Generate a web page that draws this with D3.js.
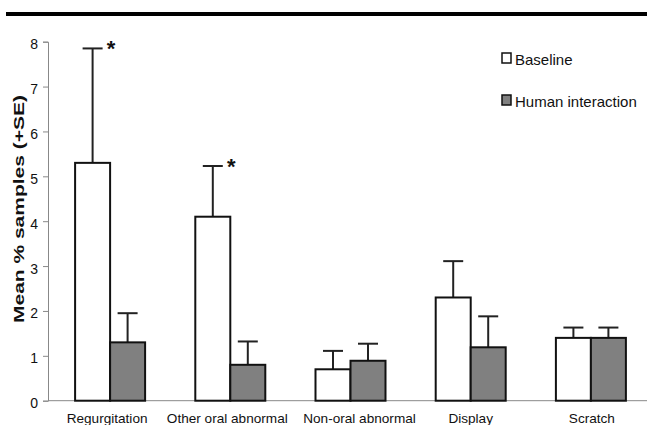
<!DOCTYPE html>
<html><head><meta charset="utf-8">
<script src="https://cdn.jsdelivr.net/npm/d3@7"></script>
<style>body{margin:0;background:#fff}svg{display:block}text{font-family:"Liberation Sans",Arial,sans-serif}</style>
</head><body>
<svg id="c" width="647" height="425"></svg>
<script>
const categories = ["Regurgitation","Other oral abnormal","Non-oral abnormal","Display","Scratch"];
const seriesNames = ["Baseline","Human interaction"];
const baseline = [5.3, 4.1, 0.7, 2.3, 1.4];
const baselineSE = [2.55, 1.13, 0.41, 0.81, 0.23];
const human = [1.3, 0.8, 0.89, 1.19, 1.4];
const humanSE = [0.65, 0.52, 0.38, 0.69, 0.23];
const significant = [true, true, false, false, false];
const yTicks = [0,1,2,3,4,5,6,7,8];

const svg = d3.select("#c");
const m = {l:48, r:647, t:41.7, b:400.7};
const x = d3.scaleBand().domain(categories).range([m.l+2, 651]).paddingInner(0).paddingOuter(0);
const y = d3.scaleLinear().domain([0,8]).range([m.b, m.t]);
const barW = 35;
const labelNudge = [-3, -3, 9, 0, 1];

// top rule
svg.append("line").attr("x1",6).attr("x2",647).attr("y1",14).attr("y2",14)
  .attr("stroke","#000").attr("stroke-width",4);

// y axis
const ya = svg.append("g").attr("transform",`translate(${m.l},0)`)
  .call(d3.axisLeft(y).tickValues(yTicks).tickSize(5).tickPadding(5).tickFormat(d3.format("d")));
ya.select(".domain").attr("stroke","#888");
ya.selectAll(".tick line").attr("stroke","#888");
ya.selectAll("text").attr("font-size",14).attr("fill","#111").attr("dy","0.5em");

// x axis line
svg.append("line").attr("x1",m.l).attr("x2",647).attr("y1",m.b).attr("y2",m.b).attr("stroke","#888");

// category labels
svg.selectAll(".cl").data(categories).join("text").attr("class","cl")
  .attr("x",(d,i)=>x(d)+x.bandwidth()/2+labelNudge[i]).attr("y",423).attr("text-anchor","middle")
  .attr("font-size",13.6).attr("fill","#111").text(d=>d);

const data = categories.map((c,i)=>({c, vals:[
  {s:0, v:baseline[i], se:baselineSE[i]},
  {s:1, v:human[i], se:humanSE[i]}]}));
const fills = ["#fff","#808080"];

const g = svg.selectAll(".grp").data(data).join("g")
  .attr("transform",d=>`translate(${x(d.c)+x.bandwidth()/2},0)`);

const bars = g.selectAll(".b").data(d=>d.vals).join("g");
// error bars
bars.append("line").attr("x1",d=>(d.s-0.5)*barW).attr("x2",d=>(d.s-0.5)*barW)
  .attr("y1",d=>y(d.v)).attr("y2",d=>y(d.v+d.se)).attr("stroke","#222").attr("stroke-width",2);
bars.append("line").attr("x1",d=>(d.s-0.5)*barW-10).attr("x2",d=>(d.s-0.5)*barW+10)
  .attr("y1",d=>y(d.v+d.se)).attr("y2",d=>y(d.v+d.se)).attr("stroke","#222").attr("stroke-width",2);
bars.append("rect").attr("x",d=>(d.s-1)*barW).attr("width",barW)
  .attr("y",d=>y(d.v)).attr("height",d=>y(0)-y(d.v))
  .attr("fill",d=>fills[d.s]).attr("stroke","#111").attr("stroke-width",2);

// significance stars
g.filter((d,i)=>significant[i]).append("text")
  .attr("x",1).attr("y",d=>y(d.vals[0].v+d.vals[0].se)+8)
  .attr("text-anchor","middle").attr("font-size",22).attr("font-weight","bold").attr("fill","#111").text("*");

// y title
svg.append("text").attr("transform","translate(24,209) rotate(-90)").attr("text-anchor","middle")
  .attr("font-size",15.5).attr("font-weight","bold").attr("fill","#111")
  .attr("textLength",228).attr("lengthAdjust","spacingAndGlyphs").text("Mean % samples (+SE)");

// legend
const lg = svg.selectAll(".lg").data(seriesNames).join("g")
  .attr("transform",(d,i)=>`translate(502,${53+i*42})`);
lg.append("rect").attr("width",9).attr("height",10).attr("fill",(d,i)=>fills[i]).attr("stroke","#111").attr("stroke-width",1.5);
lg.append("text").attr("x",13).attr("y",12).attr("font-size",15).attr("fill","#111").text(d=>d);
</script>
</body></html>
